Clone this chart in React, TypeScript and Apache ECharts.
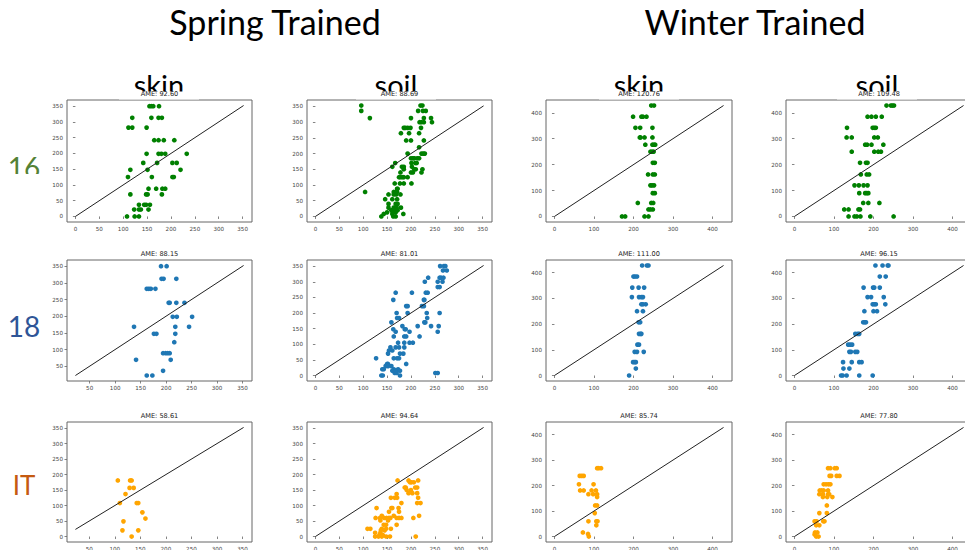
import { useEffect, useRef } from "react";
import * as echarts from "echarts";

// ---- tick labels ----
const springTicks = [0, 50, 100, 150, 200, 250, 300, 350];
const winterTicks = [0, 100, 200, 300, 400];

// ---- text ----
const seasonHeaders = ["Spring Trained", "Winter Trained"];
const surfaceHeaders = ["skin", "soil", "skin", "soil"];
const rowLabels = ["16", "18", "IT"];
const ameScores = [
  ["92.60", "88.69", "120.76", "109.48"],
  ["88.15", "81.01", "111.00", "96.15"],
  ["58.61", "94.64", "85.74", "77.80"],
];

// ---- identity line extents [from, to] ----
const identitySpring = [0, 352];
const identityWinter = [0, 428];
const identitySpring18Skin = [22, 352];
const identitySpringITSkin = [23, 352];

// ---- predictions vs. truth: [predicted, actual] ----
const spring16Skin = [
  [155, 350], [159, 350], [163, 350], [175, 350],
  [119, 313], [159, 313], [174, 313], [181, 313],
  [111, 282], [119, 282], [149, 282],
  [165, 242], [174, 242], [185, 242], [207, 242],
  [149, 199], [174, 199], [180, 199], [188, 199], [233, 199],
  [142, 170], [171, 170], [203, 170], [212, 170],
  [115, 148], [151, 148], [220, 148],
  [110, 125], [160, 125], [203, 125], [206, 125],
  [153, 88], [169, 88], [182, 88], [188, 88],
  [115, 70], [148, 70], [151, 70], [181, 70],
  [133, 37], [144, 37], [148, 37], [156, 37],
  [123, 22], [133, 22], [137, 22], [153, 22],
  [108, 0], [124, 0], [133, 0],
];

const spring16Soil = [
  [96, 353], [220, 353], [224, 353],
  [96, 336], [215, 336], [225, 336], [231, 336],
  [114, 313], [200, 313], [227, 313], [242, 313],
  [218, 300], [222, 300], [227, 300], [244, 300],
  [185, 282], [188, 282], [193, 282], [199, 282], [221, 282],
  [179, 265], [196, 265], [217, 265],
  [190, 242], [200, 242], [227, 242],
  [217, 220],
  [193, 200], [222, 200], [226, 200], [229, 200],
  [200, 185], [204, 185], [207, 185], [213, 185], [217, 185],
  [167, 170], [201, 170], [209, 170], [212, 170],
  [161, 158], [181, 158], [185, 158], [202, 158],
  [185, 150], [207, 150], [210, 150], [224, 150],
  [178, 140], [200, 140], [204, 140], [222, 140],
  [175, 125], [178, 125], [182, 125], [185, 125], [193, 125],
  [166, 105], [177, 105], [185, 105], [201, 105],
  [171, 88], [172, 88],
  [104, 78], [164, 78], [168, 78], [171, 78],
  [153, 70], [164, 70], [169, 70], [178, 70],
  [146, 55], [161, 55], [171, 55],
  [153, 40], [168, 40], [172, 40],
  [153, 28], [164, 28], [170, 28], [179, 28],
  [159, 20], [164, 20], [172, 20],
  [150, 13], [162, 13], [168, 13],
  [143, 8], [161, 8], [184, 8],
  [138, 0], [163, 0], [168, 0],
];

const winter16Skin = [
  [245, 428], [252, 428],
  [199, 385], [220, 385], [224, 385], [233, 385],
  [205, 342], [217, 342], [248, 342],
  [216, 305], [218, 305], [228, 305], [248, 305],
  [230, 277], [248, 277], [252, 277], [255, 277],
  [243, 250], [247, 250], [251, 250],
  [249, 207], [254, 207],
  [237, 162], [249, 162], [254, 162],
  [243, 120], [247, 120], [252, 120],
  [249, 90], [254, 90],
  [211, 52], [245, 52], [250, 52],
  [238, 27], [243, 27], [249, 27],
  [171, 0], [179, 0], [228, 0], [238, 0],
];

const winter16Soil = [
  [233, 428], [244, 428], [248, 428], [252, 428],
  [185, 385], [195, 385], [206, 385], [221, 385],
  [133, 342], [198, 342], [202, 342], [206, 342],
  [132, 305], [145, 305], [202, 305], [211, 305],
  [179, 277], [184, 277], [195, 277], [225, 277],
  [145, 250], [202, 250], [212, 250], [219, 250],
  [166, 207], [181, 207], [185, 207],
  [168, 162], [183, 162], [189, 162],
  [152, 120], [163, 120], [175, 120], [185, 120],
  [164, 90], [179, 90], [183, 90], [187, 90],
  [174, 52], [187, 52], [215, 52],
  [126, 27], [137, 27], [162, 27], [166, 27],
  [137, 0], [152, 0], [158, 0], [167, 0], [192, 0], [251, 0],
];

const spring18Skin = [
  [190, 350], [201, 350],
  [191, 312], [195, 312], [220, 312],
  [162, 282], [166, 282], [170, 282], [179, 282],
  [205, 240], [207, 240], [220, 240], [236, 240],
  [213, 198], [221, 198], [251, 198],
  [137, 168], [218, 168], [245, 168],
  [176, 147], [181, 147], [218, 147],
  [216, 122],
  [194, 89], [199, 89], [203, 89], [207, 89],
  [141, 69], [209, 69],
  [194, 36],
  [162, 22], [173, 22],
];

const spring18Soil = [
  [261, 350], [269, 350], [272, 350],
  [267, 336], [275, 336],
  [236, 313], [260, 313], [263, 313], [268, 313],
  [229, 300], [256, 300], [266, 300],
  [256, 283], [260, 283],
  [168, 265], [202, 265], [231, 265], [235, 265],
  [163, 242], [227, 242], [228, 242],
  [190, 222], [193, 222], [223, 222], [227, 222],
  [170, 200], [193, 200], [233, 200], [260, 200],
  [171, 184], [175, 184], [234, 184],
  [159, 170], [228, 170], [230, 170],
  [182, 158], [214, 158], [242, 158], [258, 158],
  [163, 148], [187, 148], [189, 148],
  [168, 140], [197, 140], [256, 140],
  [164, 125], [186, 125], [190, 125], [218, 125],
  [173, 105], [186, 105], [197, 105], [204, 105],
  [157, 90], [168, 90], [175, 90], [186, 90],
  [154, 80], [161, 80],
  [152, 70], [177, 70], [184, 70],
  [127, 55], [164, 55], [171, 55], [175, 55],
  [150, 37], [152, 37], [190, 37],
  [147, 30], [152, 30], [159, 30],
  [140, 20], [143, 20], [164, 20], [173, 20],
  [161, 15], [168, 15], [177, 15],
  [166, 8], [170, 8], [251, 8], [256, 8],
  [138, 0], [141, 0], [177, 0],
];

const winter18Skin = [
  [222, 428], [234, 428], [238, 428],
  [200, 385], [204, 385], [209, 385],
  [197, 342], [213, 342], [227, 342],
  [196, 305], [214, 305], [220, 305], [224, 305],
  [220, 277], [224, 277], [231, 277],
  [209, 250], [224, 250],
  [213, 207], [217, 207],
  [214, 162], [218, 162], [220, 162],
  [210, 120], [214, 120],
  [203, 92], [209, 92], [226, 92],
  [199, 52], [203, 52], [206, 52],
  [206, 27],
  [189, 0],
];

const winter18Soil = [
  [205, 428], [223, 428], [236, 428], [238, 428],
  [216, 385], [231, 385],
  [175, 342], [199, 342], [202, 342], [216, 342],
  [185, 305], [194, 305], [226, 305],
  [198, 277], [202, 277], [206, 277], [230, 277],
  [177, 250], [200, 250], [209, 250],
  [174, 207], [178, 207], [181, 207],
  [154, 162], [160, 162], [164, 162],
  [136, 120], [141, 120], [146, 120],
  [139, 92], [143, 92], [154, 92], [159, 92],
  [123, 52], [145, 52], [164, 52], [170, 52],
  [124, 27], [139, 27],
  [118, 0], [122, 0], [132, 0], [164, 0], [198, 0],
];

const springITSkin = [
  [106, 181], [130, 181], [133, 181],
  [129, 157], [137, 157],
  [121, 137],
  [110, 108], [143, 108], [146, 108],
  [154, 78],
  [160, 58],
  [117, 49],
  [115, 20], [146, 20],
  [133, 0],
];

const springITSoil = [
  [172, 181], [195, 181], [215, 181],
  [198, 175], [201, 175], [206, 175],
  [187, 158], [189, 158], [209, 158], [213, 158],
  [191, 150], [200, 150],
  [195, 140], [203, 140], [213, 140],
  [170, 137],
  [158, 125], [166, 125], [171, 125], [215, 125],
  [180, 108], [213, 108], [220, 108],
  [128, 92], [159, 92], [161, 92], [174, 92],
  [154, 80], [175, 80],
  [139, 67], [164, 67], [217, 67],
  [126, 60], [135, 60], [144, 60], [149, 60], [154, 60], [157, 60], [170, 60], [175, 60], [180, 60], [205, 60],
  [136, 52], [152, 52],
  [143, 38], [148, 38], [170, 38],
  [109, 25], [115, 25], [139, 25], [148, 25], [158, 25],
  [137, 20], [145, 20],
  [125, 12], [136, 12],
  [134, 5], [141, 5],
  [125, 0], [132, 0], [139, 0], [148, 0], [156, 0], [210, 0],
];

const winterITSkin = [
  [108, 268], [112, 268], [118, 268],
  [64, 238], [69, 238], [74, 238],
  [62, 205], [99, 205],
  [65, 181], [74, 181], [94, 181], [105, 181],
  [86, 166], [98, 166], [108, 166],
  [108, 155],
  [103, 122], [108, 122],
  [102, 92],
  [86, 60], [106, 60], [109, 60],
  [106, 44],
  [72, 16],
  [85, 10],
  [87, 0],
];

const winterITSoil = [
  [85, 268], [91, 268], [102, 268], [107, 268],
  [89, 238], [93, 238], [107, 238], [114, 238],
  [74, 205], [80, 205], [86, 205], [91, 205],
  [64, 181], [69, 181], [74, 181], [85, 181],
  [63, 166], [72, 166], [85, 166], [88, 166],
  [72, 155], [83, 155], [96, 155],
  [82, 122],
  [63, 92], [82, 92],
  [51, 60], [56, 60], [73, 60], [76, 60],
  [55, 44], [63, 44],
  [52, 16], [58, 16],
  [51, 8],
  [55, 0], [61, 0],
];

// panels by row (16, 18, IT) and column (spring skin, spring soil, winter skin, winter soil)
const panelPoints = [
  [spring16Skin, spring16Soil, winter16Skin, winter16Soil],
  [spring18Skin, spring18Soil, winter18Skin, winter18Soil],
  [springITSkin, springITSoil, winterITSkin, winterITSoil],
];
const panelIdentity = [
  [identitySpring, identitySpring, identityWinter, identityWinter],
  [identitySpring18Skin, identitySpring, identityWinter, identityWinter],
  [identitySpringITSkin, identitySpring, identityWinter, identityWinter],
];
const panelTicks = [springTicks, springTicks, winterTicks, winterTicks];

// ---- layout & styling ----
const colLeft = [67, 307, 546, 786];
const colWidth = [185, 185, 186, 186];
const rowTop = [100, 260, 422];
const rowHeight = [122, 121, 120];
const markerColors = ["#008000", "#1f77b4", "#ffa500"];
const rowLabelColors = ["#548235", "#2f5597", "#c55a11"];
const seasonCenters = [275, 755];
const surfaceCenters = [159, 396, 639, 877];
const rowLabelY = [167, 326, 485];
const rowLabelX = [24, 24, 24];
const tickFont = "DejaVu Sans";

function paddedExtent(values: number[]): [number, number] {
  const lo = Math.min(...values);
  const hi = Math.max(...values);
  const pad = (hi - lo) * 0.05;
  return [lo - pad, hi + pad];
}

function buildOption() {
  const grids: any[] = [];
  const xAxes: any[] = [];
  const yAxes: any[] = [];
  const series: any[] = [];
  const elements: any[] = [];

  panelPoints.forEach((row, r) => {
    row.forEach((pts, c) => {
      const idx = grids.length;
      const ident = panelIdentity[r][c];
      const xs = pts.map((p) => p[0]).concat(ident);
      const ys = pts.map((p) => p[1]).concat(ident);
      const [xMin, xMax] = paddedExtent(xs);
      const [yMin, yMax] = paddedExtent(ys);
      const ticks = panelTicks[c];
      const xTicks = ticks.filter((t) => t >= xMin && t <= xMax);
      const yTicks = ticks.filter((t) => t >= yMin && t <= yMax);

      grids.push({
        left: colLeft[c],
        top: rowTop[r],
        width: colWidth[c],
        height: rowHeight[r],
        show: true,
        borderColor: "#666",
        borderWidth: 1,
        backgroundColor: "rgba(0,0,0,0)",
        containLabel: false,
        outerBoundsMode: "none",
      });

      const axisCommon = {
        type: "value",
        gridIndex: idx,
        axisLine: { show: false },
        splitLine: { show: false },
      };
      xAxes.push({
        ...axisCommon,
        min: xMin,
        max: xMax,
        axisTick: { show: true, customValues: xTicks, length: 2.5, lineStyle: { color: "#666", width: 0.8 } },
        axisLabel: { customValues: xTicks, fontSize: 5.6, color: "#444", margin: 3.5, fontFamily: tickFont },
      });
      yAxes.push({
        ...axisCommon,
        min: yMin,
        max: yMax,
        axisTick: { show: true, customValues: yTicks, length: 2.5, lineStyle: { color: "#666", width: 0.8 } },
        axisLabel: { customValues: yTicks, fontSize: 5.6, color: "#444", margin: 4, fontFamily: tickFont },
      });

      series.push({
        type: "scatter",
        xAxisIndex: idx,
        yAxisIndex: idx,
        data: pts,
        symbolSize: 4.7,
        itemStyle: { color: markerColors[r], opacity: 1 },
        silent: true,
        z: 2,
      });
      series.push({
        type: "line",
        xAxisIndex: idx,
        yAxisIndex: idx,
        data: [
          [ident[0], ident[0]],
          [ident[1], ident[1]],
        ],
        symbol: "none",
        lineStyle: { color: "#222", width: 1 },
        silent: true,
        z: 3,
      });

      elements.push({
        type: "text",
        x: colLeft[c] + colWidth[c] / 2,
        y: rowTop[r] - 6.5,
        z: 20,
        style: {
          text: "AME: " + ameScores[r][c],
          fontSize: 6.6,
          fontFamily: tickFont,
          fill: "#222",
          align: "center",
          verticalAlign: "middle",
          textAlign: "center",
          textVerticalAlign: "middle",
        },
      });
    });
  });

  seasonHeaders.forEach((t, i) => {
    elements.push({
      type: "text",
      x: seasonCenters[i],
      y: 21,
      z: 1,
      style: {
        text: t,
        fontSize: 34,
        fontFamily: "Lato",
        fill: "#000",
        align: "center",
        verticalAlign: "middle",
        textAlign: "center",
        textVerticalAlign: "middle",
      },
    });
  });

  surfaceHeaders.forEach((t, i) => {
    elements.push({
      type: "text",
      x: surfaceCenters[i],
      y: 84,
      z: 1,
      style: {
        text: t,
        fontSize: 29,
        fontFamily: "Lato",
        fill: "#000",
        align: "center",
        verticalAlign: "middle",
        textAlign: "center",
        textVerticalAlign: "middle",
      },
    });
    // the plot panels sit over the lower edge of the header words
    elements.push({
      type: "rect",
      z: 5,
      shape: { x: surfaceCenters[i] - 40, y: 91.5, width: 80, height: 8 },
      style: { fill: "#fff" },
    });
  });

  rowLabels.forEach((t, i) => {
    elements.push({
      type: "text",
      x: rowLabelX[i],
      y: rowLabelY[i],
      z: 1,
      style: {
        text: t,
        fontSize: i === 2 ? 26 : 28,
        fontFamily: "Lato",
        fill: rowLabelColors[i],
        align: "center",
        verticalAlign: "middle",
        textAlign: "center",
        textVerticalAlign: "middle",
      },
    });
  });
  // lower edge of the "16" label is hidden under the panels
  elements.push({
    type: "rect",
    z: 5,
    shape: { x: 4, y: 174, width: 44, height: 10 },
    style: { fill: "#fff" },
  });

  return {
    animation: false,
    backgroundColor: "#fff",
    grid: grids,
    xAxis: xAxes,
    yAxis: yAxes,
    series,
    graphic: { elements },
  };
}

export default function App() {
  const ref = useRef<HTMLDivElement>(null);
  useEffect(() => {
    if (!ref.current) return;
    const chart = echarts.init(ref.current, null, { renderer: "svg" });
    chart.setOption(buildOption() as any);
    return () => chart.dispose();
  }, []);
  return (
    <div
      ref={ref}
      style={{ position: "fixed", left: 0, top: 0, width: 965, height: 550, background: "#fff" }}
    />
  );
}
